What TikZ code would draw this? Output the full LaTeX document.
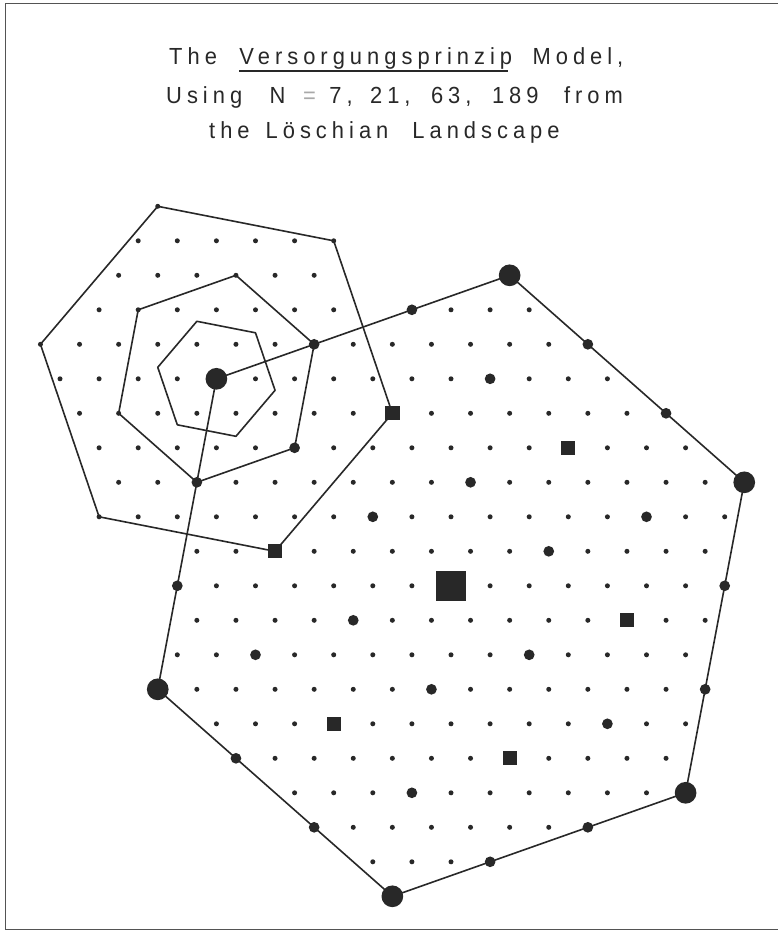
\documentclass[tikz,border=0pt]{standalone}
\usepackage{fontspec}
\newfontfamily\titlefont[FakeStretch=0.94,LetterSpace=21.5]{Liberation Sans}
\definecolor{ink}{RGB}{40,40,40}
\newlength\ulwd
\newcommand\ulword[1]{\settowidth\ulwd{#1}\rlap{\rule[-7.2pt]{\dimexpr\ulwd-4pt\relax}{1.5pt}}#1}
\newcommand\wg[1]{\hspace{#1pt}}
\tikzset{
  titletext/.style={font=\titlefont\fontsize{23.3}{28}\selectfont, text=ink, inner sep=0pt},
  frameline/.style={draw=ink!80, line width=1.5pt},
  hexline/.style={draw=ink, line width=1.6pt, line join=round},
  dotM/.style={circle, fill=ink, inner sep=0pt, minimum size=10.7pt},
  dotL/.style={circle, fill=ink, inner sep=0pt, minimum size=21.7pt},
  sqM/.style={rectangle, fill=ink, inner sep=0pt, minimum size=14.3pt},
  sqL/.style={rectangle, fill=ink, inner sep=0pt, minimum size=30.3pt},
}
\begin{document}
\begin{tikzpicture}[x=1pt,y=1pt]
\useasboundingbox (0,0) rectangle (778,-932);
\fill[white] (0,0) rectangle (778,-932);
% frame
\coordinate (ftl) at (5.5,-3.5);
\coordinate (ftr) at (778,-3.5);
\coordinate (fbl) at (5.5,-929.5);
\coordinate (fbr) at (778,-929.5);
\draw[frameline] (ftr) -- (ftl) -- (fbl) -- (fbr);
% title
\node[titletext, anchor=base west] (title1) at (169,-64.7)
  {The\wg{22.5}\ulword{Versorgungsprinzip}\wg{20.5}Model,};
\node[titletext, anchor=base west] (title2) at (166,-103.7)
  {Using\wg{27.5}N\wg{17.5}{\color{ink!40}=}\wg{13.5}7,\wg{17.5}21,\wg{20.5}63,\wg{20.5}189\wg{25.5}from};
\node[titletext, anchor=base west] (title3) at (209,-138.7)
  {the\wg{16}Löschian\wg{24}Landscape};

\begin{scope}[shift={(451pt,-585.8pt)}, x={(39.1pt,0pt)}, y={(19.55pt,-34.5pt)}]
  % small lattice dots
  \foreach \i in {-13,...,13}{
    \foreach \j in {-12,...,10}{
      \pgfmathsetmacro\X{\i+0.5*\j}
      \pgfmathsetmacro\Y{0.8660254*\j}
      \pgfmathsetmacro\pA{max(abs(\X*0.654654-\Y*0.755929), abs(\X*0.981981+\Y*0.188982), abs(\X*0.327327+\Y*0.944911))}
      \pgfmathsetmacro\Xu{\i+3+0.5*(\j+6)}
      \pgfmathsetmacro\Yu{0.8660254*(\j+6)}
      \pgfmathsetmacro\pU{max(abs(\Xu*0.188982-\Yu*0.981981), abs(\Xu*0.944911-\Yu*0.327327), abs(\Xu*0.755929+\Yu*0.654654))}
      \pgfmathtruncatemacro\inB{\pA<6.8}
      \pgfmathtruncatemacro\inBC{\pA<6.95}
      \pgfmathtruncatemacro\inU{\pU<4.02}
      \pgfmathtruncatemacro\Lsev{mod(\i+3*\j,7)==0}
      \pgfmathtruncatemacro\show{or(and(\inB,1-\Lsev),and(\inU,1-\inBC))}
      \ifnum\show=1 \fill[ink] (\i,\j) circle[radius=2.5pt];\fi
    }
  }
  % big hexagon (K=189) vertices
  \coordinate (h1) at (6,-9);
  \coordinate (h2) at (9,-3);
  \coordinate (h3) at (3,6);
  \coordinate (h4) at (-6,9);
  \coordinate (h5) at (-9,3);
  \coordinate (h6) at (-3,-6);
  \draw[hexline] (h1) -- (h2) -- (h3) -- (h4) -- (h5) -- (h6) -- cycle;
  % upper-left outer hexagon (K=63)
  \coordinate (u1) at (-2,-11);
  \coordinate (u2) at (2,-10);
  \coordinate (u3) at (1,-5);
  \coordinate (u4) at (-4,-1);
  \coordinate (u5) at (-8,-2);
  \coordinate (u6) at (-7,-7);
  \draw[hexline] (u1) -- (u2) -- (u3) -- (u4) -- (u5) -- (u6) -- cycle;
  % upper-left middle hexagon (K=21)
  \coordinate (m1) at (-1,-9);
  \coordinate (m2) at (0,-7);
  \coordinate (m3) at (-2,-4);
  \coordinate (m4) at (-5,-3);
  \coordinate (m5) at (-6,-5);
  \coordinate (m6) at (-4,-8);
  \draw[hexline] (m1) -- (m2) -- (m3) -- (m4) -- (m5) -- (m6) -- cycle;
  % upper-left inner hexagon (K=7)
  \coordinate (n1) at ({-4/3},{-22/3});
  \coordinate (n2) at ({-5/3},{-17/3});
  \coordinate (n3) at ({-10/3},{-13/3});
  \coordinate (n4) at ({-14/3},{-14/3});
  \coordinate (n5) at ({-13/3},{-19/3});
  \coordinate (n6) at ({-8/3},{-23/3});
  \draw[hexline] (n1) -- (n2) -- (n3) -- (n4) -- (n5) -- (n6) -- cycle;

  % centre of the whole landscape
  \node[sqL] (centre) at (0,0) {};
  % K=63 centres (big circles)
  \foreach \k in {1,...,6} \node[dotL] (V\k) at (h\k) {};
  % K=21 centres (squares)
  \foreach \p [count=\k] in {(1,-5),(5,-4),(4,1),(-1,5),(-5,4),(-4,-1)}
    \node[sqM] (S\k) at \p {};
  % K=7 centres (medium circles)
  \foreach \p [count=\k] in {(2,-3),(3,-1),(1,2),(-2,3),(-3,1),(-1,-2),
                             (4,-6),(6,-2),(2,4),(-4,6),(-6,2),(-2,-4),
                             (7,-7),(8,-5),(7,0),(5,3),(0,7),(-3,8),
                             (-7,7),(-8,5),(-7,0),(-5,-3),(0,-7),(3,-8)}
    \node[dotM] (M\k) at \p {};
\end{scope}
\end{tikzpicture}
\end{document}
